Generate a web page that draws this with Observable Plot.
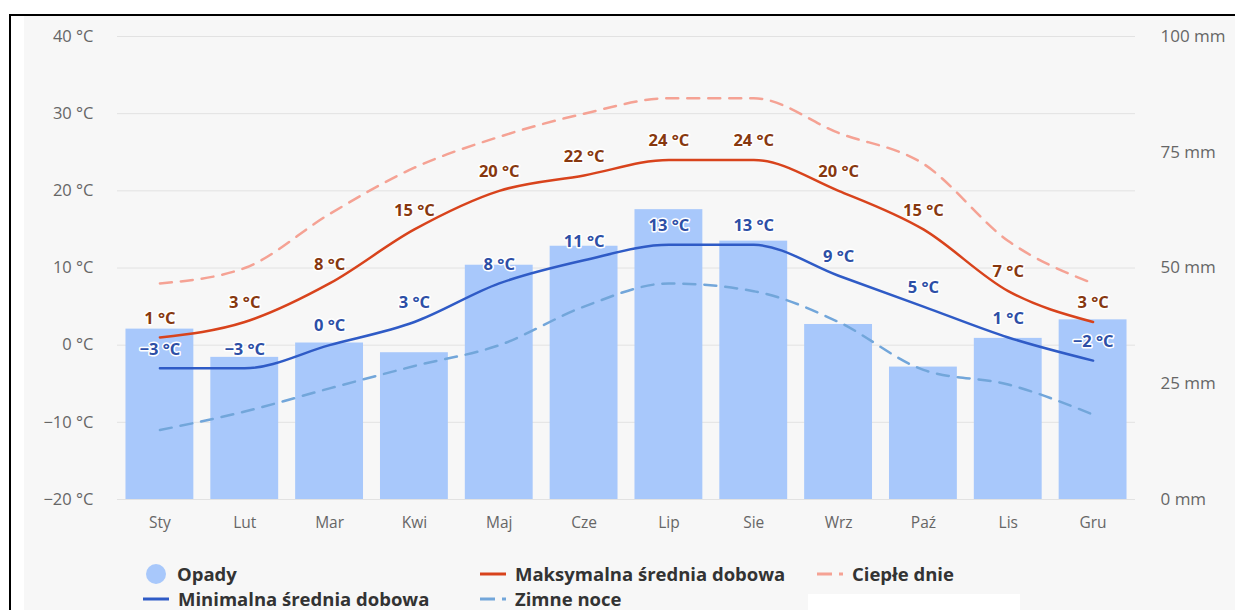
<!DOCTYPE html>
<html>
<head>
<meta charset="utf-8">
<script src="https://cdn.jsdelivr.net/npm/d3@7"></script>
<script src="https://cdn.jsdelivr.net/npm/@observablehq/plot@0.6"></script>
<style>
  html, body { margin: 0; padding: 0; background: #fff; }
  body { width: 1235px; height: 610px; overflow: hidden; position: relative; font-family: "Open Sans", sans-serif; }
  #frame { position: absolute; left: 9px; top: 14px; width: 1300px; height: 700px; border-top: 2px solid #000; border-left: 2px solid #000; }
  #bg { position: absolute; left: 24px; top: 16px; right: 0; bottom: 0; background: #f7f7f7; }
  #chart { position: absolute; left: 0; top: 0; }
  .leg { position: absolute; display: flex; align-items: center; font-weight: 700; font-size: 18.5px; color: #333; white-space: nowrap; line-height: 20px; height: 20px; }
  .leg svg { margin-right: 9px; }
  #white { position: absolute; left: 808px; top: 594px; width: 212px; height: 20px; background: #fff; }
</style>
</head>
<body>
<div id="frame"></div>
<div id="bg"></div>
<div id="white"></div>
<div id="chart"></div>
<div id="legend"></div>
<script>
const months = ["Sty","Lut","Mar","Kwi","Maj","Cze","Lip","Sie","Wrz","Paź","Lis","Gru"];
const precipMm = [36.8, 30.7, 33.8, 31.7, 50.6, 54.7, 62.6, 55.8, 37.8, 28.6, 34.8, 38.8];
const tMax = [1, 3, 8, 15, 20, 22, 24, 24, 20, 15, 7, 3];
const tMin = [-3, -3, 0, 3, 8, 11, 13, 13, 9, 5, 1, -2];
const warmDays = [8, 10, 17, 23, 27, 30, 32, 32, 27.5, 23.5, 13.5, 8];
const coldNights = [-11, -8.6, -5.6, -2.7, 0, 5, 8, 7, 3, -3.2, -5.1, -9];
const tempTicks = [-20, -10, 0, 10, 20, 30, 40];
const mmTicks = [0, 25, 50, 75, 100];

const seriesNames = {
  precip: "Opady",
  max: "Maksymalna średnia dobowa",
  warm: "Ciepłe dnie",
  min: "Minimalna średnia dobowa",
  cold: "Zimne noce"
};
const colors = {
  precip: "#a8c8fb",
  max: "#d8431c",
  warm: "#f5a294",
  min: "#2f5bc6",
  cold: "#72a6da",
  maxLabel: "#87380f",
  minLabel: "#2d4fa6"
};

// mm axis shares the plot with the temperature axis: 0 mm = -20 °C, 100 mm = 40 °C
const mmToT = mm => -20 + mm * 60 / 100;
const tToMm = t => Math.round((t + 20) * 100 / 60);
const fmt = v => (v < 0 ? "\u2212" + Math.abs(v) : String(v));

const data = months.map((m, i) => ({
  m, p: precipMm[i], max: tMax[i], min: tMin[i], warm: warmDays[i], cold: coldNights[i]
}));

const chart = Plot.plot({
  width: 1235,
  height: 540,
  marginLeft: 117,
  marginRight: 100,
  marginTop: 36,
  marginBottom: 41,
  style: { background: "transparent", fontFamily: "Open Sans, sans-serif", fontSize: "15px", color: "#666", overflow: "visible" },
  x: { type: "band", domain: months, paddingInner: 0.2, paddingOuter: 0.1, round: false, label: null },
  y: { domain: [-20, 40], label: null },
  marks: [
    Plot.gridY(tempTicks, { stroke: "#e2e2e2", strokeOpacity: 1, strokeWidth: 1 }),
    Plot.axisY(tempTicks, { anchor: "left", tickSize: 0, tickPadding: 24, tickFormat: d => fmt(d) + " °C", fill: "#666", fontSize: 16.5, label: null }),
    Plot.axisY(mmTicks.map(mmToT), { anchor: "right", tickSize: 0, tickPadding: 25, tickFormat: d => tToMm(d) + " mm", fill: "#666", fontSize: 17, label: null }),
    Plot.axisX({ tickSize: 0, tickPadding: 17, fill: "#666", fontSize: 15.5, label: null }),
    Plot.barY(data, { x: "m", y1: -20, y2: d => mmToT(d.p), fill: colors.precip }),
    Plot.line(data, { x: "m", y: "cold", stroke: colors.cold, strokeWidth: 2.5, strokeDasharray: "12,9", curve: "monotone-x" }),
    Plot.line(data, { x: "m", y: "warm", stroke: colors.warm, strokeWidth: 2.5, strokeDasharray: "12,9", curve: "monotone-x" }),
    Plot.line(data, { x: "m", y: "min", stroke: colors.min, strokeWidth: 2.5, curve: "monotone-x" }),
    Plot.line(data, { x: "m", y: "max", stroke: colors.max, strokeWidth: 2.5, curve: "monotone-x" }),
    Plot.text(data, { x: "m", y: "max", text: d => fmt(d.max) + " °C", dy: -19, fill: colors.maxLabel, stroke: "white", strokeWidth: 3, fontWeight: "bold", fontSize: 16.5 }),
    Plot.text(data, { x: "m", y: "min", text: d => fmt(d.min) + " °C", dy: -19, fill: colors.minLabel, stroke: "white", strokeWidth: 3, fontWeight: "bold", fontSize: 16.5 })
  ]
});
document.getElementById("chart").appendChild(chart);

// Legend
const legendItems = [
  { key: "precip", x: 146, y: 574, type: "circle" },
  { key: "max", x: 480, y: 574, type: "line" },
  { key: "warm", x: 817, y: 574, type: "dash" },
  { key: "min", x: 143, y: 599, type: "line" },
  { key: "cold", x: 480, y: 599, type: "dash" }
];
const legend = document.getElementById("legend");
for (const it of legendItems) {
  const div = document.createElement("div");
  div.className = "leg";
  div.style.left = it.x + "px";
  div.style.top = (it.y - 10) + "px";
  let marker;
  if (it.type === "circle") {
    marker = `<svg width="22" height="20"><circle cx="10" cy="10" r="10" fill="${colors[it.key]}"/></svg>`;
  } else if (it.type === "line") {
    marker = `<svg width="26" height="20"><line x1="0" x2="26" y1="10" y2="10" stroke="${colors[it.key]}" stroke-width="3"/></svg>`;
  } else {
    marker = `<svg width="26" height="20"><line x1="0" x2="26" y1="10" y2="10" stroke="${colors[it.key]}" stroke-width="3" stroke-dasharray="15,7"/></svg>`;
  }
  div.innerHTML = marker + `<span>${seriesNames[it.key]}</span>`;
  legend.appendChild(div);
}
</script>
</body>
</html>
